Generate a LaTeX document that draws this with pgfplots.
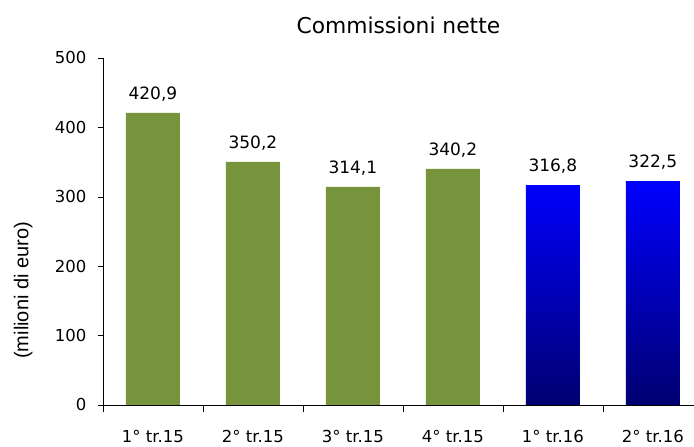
\documentclass[border=0pt]{standalone}
\usepackage{fontspec}
\setmainfont{DejaVu Sans}
\newfontfamily\arialfont{Liberation Sans}
\usepackage{pgfplots}
\pgfplotsset{compat=1.18}
\usetikzlibrary{calc}
\definecolor{olive}{HTML}{77933C}
\definecolor{topblue}{HTML}{0000FF}
\definecolor{botblue}{HTML}{000070}
\begin{document}
\begin{tikzpicture}[x=1pt,y=1pt]
\begin{axis}[
  scale only axis,
  width=591pt, height=347pt,
  xmin=-0.5, xmax=5.41,
  ymin=0, ymax=500,
  ytick={0,100,...,500},
  xtick={0,1,2,3,4,5},
  xticklabels={1° tr.15,2° tr.15,3° tr.15,4° tr.15,1° tr.16,2° tr.16},
  minor xtick={-0.5,0.5,1.5,2.5,3.5,4.5},
  major x tick style={draw=none},
  minor x tick style={black, thin},
  xtick pos=bottom, ytick pos=left,
  tick align=outside,
  minor tick length=7pt, major tick length=5pt,
  axis x line*=bottom, axis y line*=left,
  axis line style={black, thin},
  tick style={black, thin},
  every tick label/.style={font=\fontsize{16.5}{16.5}\selectfont},
  xticklabel style={yshift=-17pt},
  yticklabel style={xshift=-8pt},
  /pgf/number format/assume math mode=true,
  ylabel={(milioni di euro)},
  every axis y label/.style={at={(axis description cs:-0.135,0.33)}, rotate=90, anchor=center, font=\arialfont\fontsize{20}{20}\selectfont},
  title={Commissioni nette},
  every axis title/.style={at={(axis description cs:0.5,1)}, anchor=center, yshift=32.5pt, font=\fontsize{21.8}{21.8}\selectfont},
  ybar, bar width=0.54,
  nodes near coords,
  every node near coord/.append style={font=\fontsize{17}{17}\selectfont, yshift=8pt},
  nodes near coords style={/pgf/number format/.cd, fixed, fixed zerofill, precision=1, use comma, assume math mode=true},
  clip=false,
]
\addplot[fill=olive, draw=none, bar shift=0pt] coordinates {(0,420.9) (1,350.2) (2,314.1) (3,340.2)};
\addplot[top color=topblue, bottom color=botblue, draw=none, bar shift=0pt] coordinates {(4,316.8) (5,322.5)};
\end{axis}
\useasboundingbox ($(current axis.south west)+(-103pt,-40pt)$) rectangle ($(current axis.north east)+(0pt,58pt)$);
\end{tikzpicture}
\end{document}
